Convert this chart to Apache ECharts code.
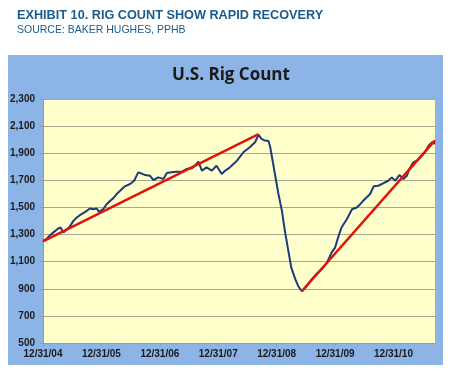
<!DOCTYPE html>
<html>
<head>
<meta charset="utf-8">
<script src="https://cdn.jsdelivr.net/npm/echarts@6/dist/echarts.min.js"></script>
<style>
html,body{margin:0;padding:0;background:#fff;}
#c{width:450px;height:372px;}
</style>
</head>
<body>
<div id="c"></div>
<script>
// Years since 12/31/04, and U.S. rig count
var years = [0.00,0.06,0.12,0.21,0.26,0.30,0.35,0.41,0.46,0.52,0.58,0.63,0.69,0.75,0.80,0.86,0.92,0.96,1.03,1.09,1.15,1.20,1.26,1.32,1.40,1.49,1.56,1.63,1.69,1.75,1.83,1.89,1.97,2.06,2.12,2.20,2.29,2.38,2.46,2.55,2.60,2.66,2.72,2.80,2.89,2.97,3.06,3.12,3.20,3.32,3.43,3.54,3.63,3.69,3.74,3.80,3.86,3.89,3.92,3.97,4.03,4.09,4.14,4.20,4.25,4.32,4.37,4.43,4.49,4.51,4.60,4.69,4.77,4.86,4.94,5.00,5.06,5.11,5.20,5.29,5.37,5.43,5.51,5.60,5.66,5.74,5.83,5.91,5.97,6.03,6.10,6.17,6.23,6.27,6.34,6.40,6.46,6.54,6.60,6.66,6.71];
var rigCount = [1252,1268,1295,1327,1345,1352,1315,1339,1359,1401,1426,1443,1458,1475,1492,1487,1492,1467,1487,1524,1549,1567,1599,1623,1656,1673,1697,1759,1750,1739,1734,1702,1722,1710,1754,1759,1764,1764,1784,1789,1808,1838,1772,1796,1772,1808,1747,1772,1796,1845,1907,1944,1981,2036,2006,1993,1990,1944,1870,1747,1599,1475,1327,1179,1056,969,919,882,907,919,969,1013,1043,1093,1167,1204,1290,1352,1413,1487,1500,1524,1562,1599,1656,1660,1680,1697,1722,1697,1739,1710,1734,1784,1833,1845,1870,1907,1956,1981,1969];
// Trend lines
var trend1Years = [0.00, 3.69];
var trend1Values = [1250, 2040];
var trend2Years = [4.43, 6.71];
var trend2Values = [882, 1995];
var xTickLabels = ['12/31/04','12/31/05','12/31/06','12/31/07','12/31/08','12/31/09','12/31/10'];

function zip(a, b){ return a.map(function(v,i){ return [v, b[i]]; }); }

var chart = echarts.init(document.getElementById('c'), null, {renderer:'canvas'});
chart.setOption({
  animation:false,
  backgroundColor:'#ffffff',
  title:{
    text:'U.S. Rig Count',
    left:226, top:62, textAlign:'center',
    textStyle:{fontFamily:'Open Sans', fontWeight:'bold', fontSize:17, color:'#1a1a1a'}
  },
  graphic:[
    {type:'rect', z:-10, shape:{x:8,y:55,width:435,height:310}, style:{fill:'#8DB4E6'}},
    {type:'text', left:17, top:9, style:{text:'EXHIBIT 10. RIG COUNT SHOW RAPID RECOVERY', font:'bold 12.7px "Liberation Sans", Arial', fill:'#1B5B8E'}},
    {type:'text', left:17, top:25, style:{text:'SOURCE: BAKER HUGHES, PPHB', font:'10.5px "Liberation Sans", Arial', fill:'#1B5B8E'}}
  ],
  grid:{left:43, right:15, top:99, bottom:29, show:true, backgroundColor:'#FFFFCC', borderWidth:0},
  xAxis:{
    type:'value', min:0, max:6.71, interval:1,
    axisLine:{show:true, lineStyle:{color:'#9a9a9a', width:1}},
    axisTick:{show:true, length:3, lineStyle:{color:'#9a9a9a'}},
    splitLine:{show:false},
    axisLabel:{
      margin:6, color:'#1a1a1a', fontWeight:'bold', fontSize:10, fontFamily:'Liberation Sans',
      showMaxLabel:false,
      formatter:function(v){ var i=Math.round(v); return (Math.abs(v-i)<1e-6 && xTickLabels[i]) ? xTickLabels[i] : ''; }
    }
  },
  yAxis:{
    type:'value', min:500, max:2300, interval:200,
    axisLine:{show:true, lineStyle:{color:'#9a9a9a', width:1}},
    axisTick:{show:true, length:3, lineStyle:{color:'#9a9a9a'}},
    splitLine:{show:true, lineStyle:{color:'#A8A890', width:1}},
    axisLabel:{
      margin:8, color:'#1a1a1a', fontWeight:'bold', fontSize:10, fontFamily:'Liberation Sans',
      formatter:function(v){ return v.toLocaleString('en-US'); }
    }
  },
  series:[
    {type:'line', data:zip(years, rigCount), showSymbol:false, symbol:'none',
     lineStyle:{color:'#1F3C7A', width:2}, z:2},
    {type:'line', data:zip(trend1Years, trend1Values), showSymbol:false, symbol:'none',
     lineStyle:{color:'#E3120B', width:2.5}, z:3},
    {type:'line', data:zip(trend2Years, trend2Values), showSymbol:false, symbol:'none',
     lineStyle:{color:'#E3120B', width:2.5}, z:3}
  ]
});
</script>
</body>
</html>
